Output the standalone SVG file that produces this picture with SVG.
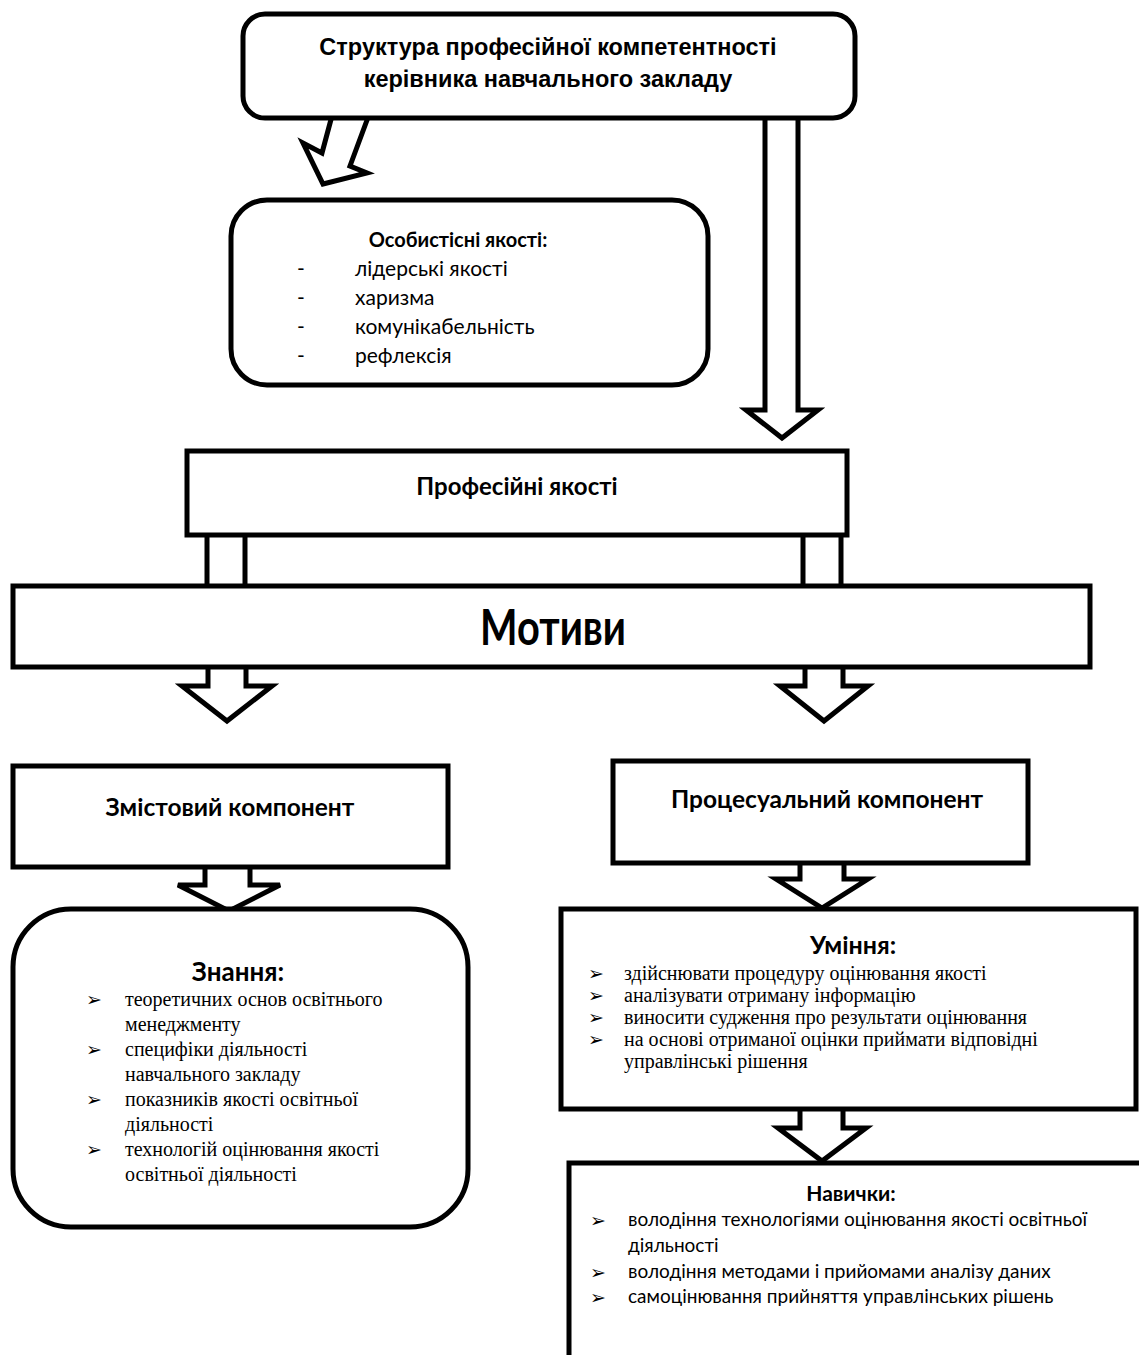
<svg xmlns="http://www.w3.org/2000/svg" width="1139" height="1355" viewBox="0 0 1139 1355">
<style>
.box{fill:#fff;stroke:#000;stroke-width:5}
.arr{fill:#fff;stroke:#000;stroke-width:5;stroke-linejoin:miter}
.t1{font-family:"Liberation Sans",Arial,sans-serif;font-weight:bold;font-size:23.5px;text-anchor:middle}
.hd{font-family:Lato,"Noto Sans",sans-serif;font-weight:bold;text-anchor:middle}
.sn{font-family:Lato,"Noto Sans",sans-serif}
.sr{font-family:"Liberation Serif","Times New Roman",serif}
.bl{font-family:"DejaVu Sans",sans-serif;font-size:19px}
</style>
<rect width="1139" height="1355" fill="#fff"/>
<g id="connectors">
<polygon class="arr" points="333,112 322,153 303,143 323,184 367,173 350,166 370,112"/>
<polygon class="arr" points="765,112 765,410 746,410 782,438 818,410 798,410 798,112"/>
<rect class="arr" x="207" y="533" width="38" height="54"/>
<rect class="arr" x="803" y="533" width="38" height="54"/>
<polygon class="arr" points="208,662 208,686 182,686 227,721 272,686 246,686 246,662"/>
<polygon class="arr" points="805,662 805,686 780,686 824,721 868,686 843,686 843,662"/>
<polygon class="arr" points="205,863 205,885 178,885 229,911 280,885 250,885 250,863"/>
<polygon class="arr" points="800,861 800,879 776,879 822,908 868,879 844,879 844,861"/>
<polygon class="arr" points="800,1106 800,1128 778,1128 822,1161 866,1128 843,1128 843,1106"/>
</g>
<g id="n-top">
<rect class="box" x="243" y="14" width="612" height="104" rx="22"/>
<text class="t1" x="548" y="55">Структура професійної компетентності</text>
<text class="t1" x="548" y="87">керівника навчального закладу</text>
</g>
<g id="n-personal">
<rect class="box" x="231" y="200" width="477" height="185" rx="36"/>
<text class="hd" x="458" y="247" style="font-size:20px">Особистісні якості:</text>
<g class="sn" style="font-size:21px">
<text x="297" y="276">-</text><text x="355" y="276">лідерські якості</text>
<text x="297" y="305">-</text><text x="355" y="305">харизма</text>
<text x="297" y="334">-</text><text x="355" y="334">комунікабельність</text>
<text x="297" y="363">-</text><text x="355" y="363">рефлексія</text>
</g>
</g>
<g id="n-prof">
<rect class="box" x="187" y="451" width="660" height="84"/>
<text class="hd" x="517" y="495" style="font-size:24px">Професійні якості</text>
</g>
<g id="n-motives">
<rect class="box" x="13" y="586" width="1077" height="81"/>
<text class="hd" x="553" y="645" style="font-size:50px" textLength="146" lengthAdjust="spacingAndGlyphs">Мотиви</text>
</g>
<g id="n-content">
<rect class="box" x="13" y="766" width="435" height="101"/>
<text class="hd" x="230" y="816" style="font-size:24.5px">Змістовий компонент</text>
</g>
<g id="n-proc">
<rect class="box" x="613" y="761" width="415" height="102"/>
<text class="hd" x="827" y="808" style="font-size:24.5px">Процесуальний компонент</text>
</g>
<g id="n-knowledge">
<rect class="box" x="13" y="909" width="455" height="318" rx="58"/>
<text class="hd" x="238" y="981" style="font-size:26px">Знання:</text>
<text class="bl" x="86" y="1006">➢</text>
<text class="bl" x="86" y="1056">➢</text>
<text class="bl" x="86" y="1106">➢</text>
<text class="bl" x="86" y="1156">➢</text>
<g class="sr" style="font-size:20px">
<text x="125" y="1006">теоретичних основ освітнього</text>
<text x="125" y="1031">менеджменту</text>
<text x="125" y="1056">специфіки діяльності</text>
<text x="125" y="1081">навчального закладу</text>
<text x="125" y="1106">показників якості освітньої</text>
<text x="125" y="1131">діяльності</text>
<text x="125" y="1156">технологій оцінювання якості</text>
<text x="125" y="1181">освітньої діяльності</text>
</g>
</g>
<g id="n-skills">
<rect class="box" x="561" y="909" width="575" height="200"/>
<text class="hd" x="853" y="954" style="font-size:25px">Уміння:</text>
<text class="bl" x="588" y="980">➢</text>
<text class="bl" x="588" y="1002">➢</text>
<text class="bl" x="588" y="1024">➢</text>
<text class="bl" x="588" y="1046">➢</text>
<g class="sr" style="font-size:20px">
<text x="624" y="980">здійснювати процедуру оцінювання якості</text>
<text x="624" y="1002">аналізувати отриману інформацію</text>
<text x="624" y="1024">виносити судження про результати оцінювання</text>
<text x="624" y="1046">на основі отриманої оцінки приймати відповідні</text>
<text x="624" y="1068">управлінські рішення</text>
</g>
</g>
<g id="n-habits">
<rect class="box" x="569" y="1163" width="580" height="200"/>
<text class="hd" x="851" y="1201" style="font-size:21px">Навички:</text>
<text class="bl" x="590" y="1227">➢</text>
<text class="bl" x="590" y="1279">➢</text>
<text class="bl" x="590" y="1304">➢</text>
<g class="sn" style="font-size:19px">
<text x="628" y="1226">володіння технологіями оцінювання якості освітньої</text>
<text x="628" y="1252">діяльності</text>
<text x="628" y="1278">володіння методами і прийомами аналізу даних</text>
<text x="628" y="1303">самоцінювання прийняття управлінських рішень</text>
</g>
</g>
</svg>
